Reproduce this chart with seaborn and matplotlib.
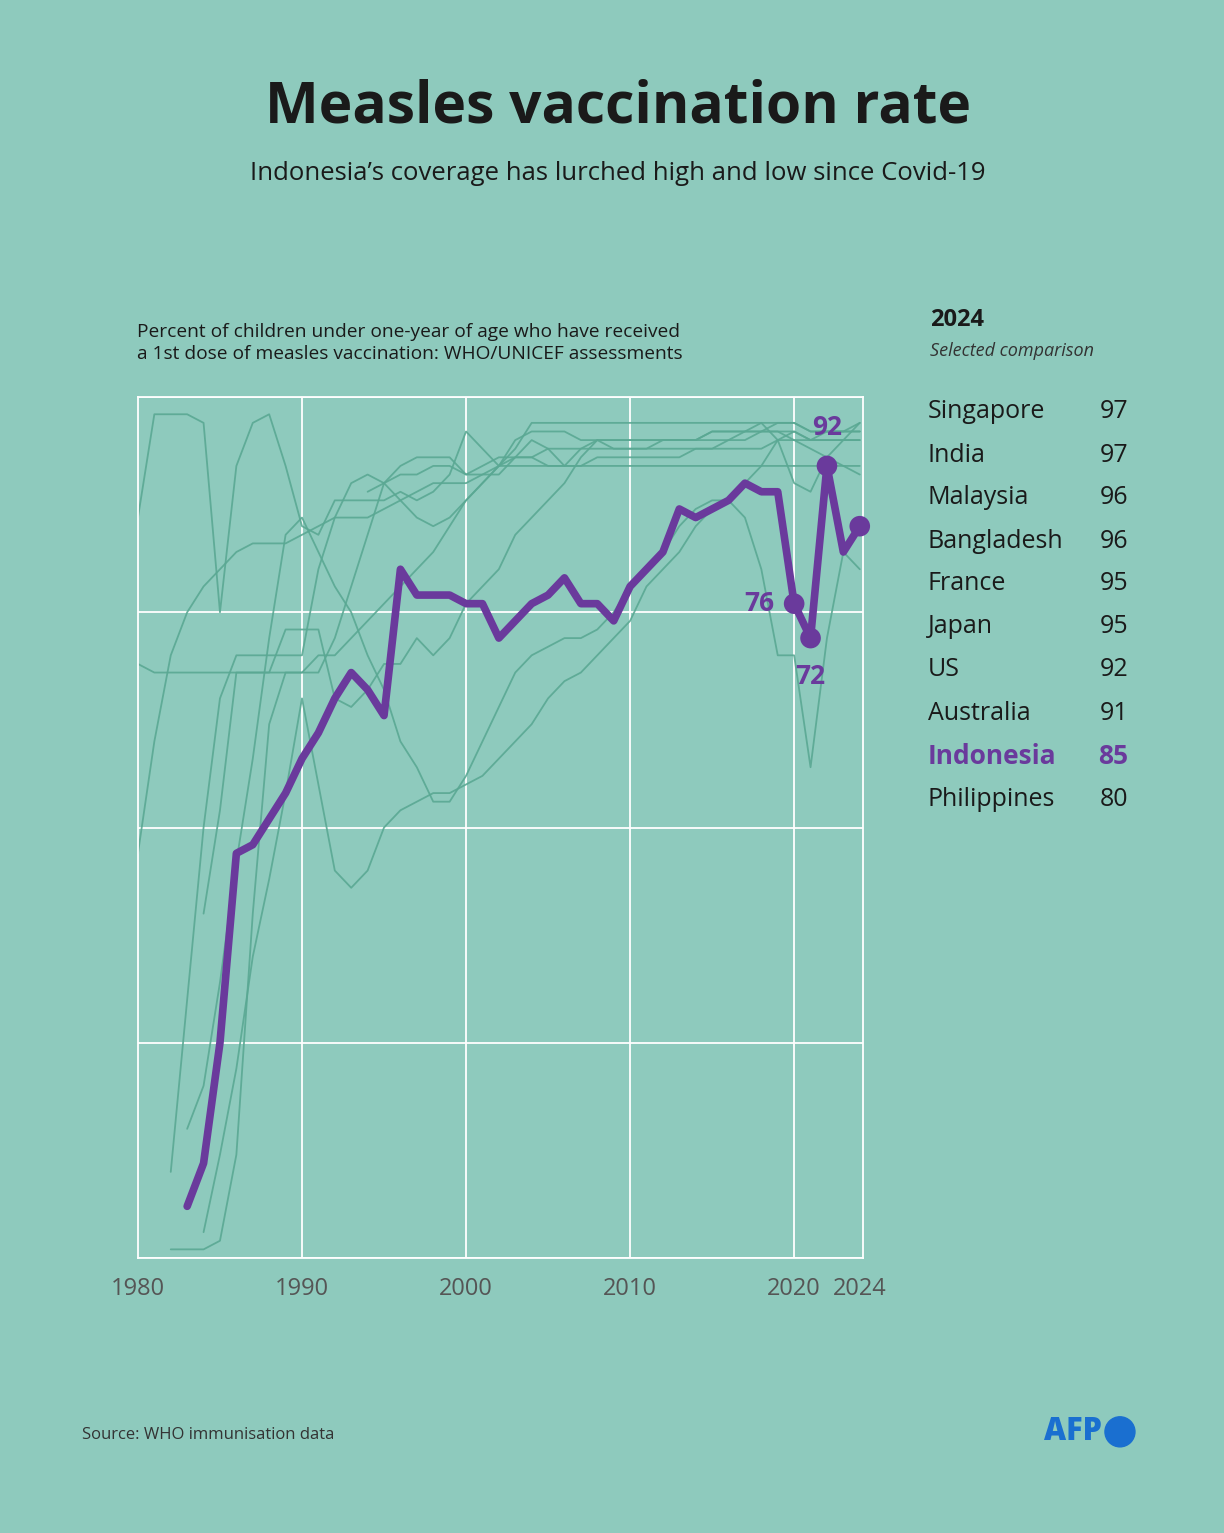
import numpy as np
import pandas as pd
import matplotlib
matplotlib.use("Agg")
import matplotlib.pyplot as plt
import seaborn as sns

years = list(range(1980, 2025))
nan = np.nan

indonesia = [nan, nan, nan, 6, 11, 25, 47, 48, 51, 54, 58, 61, 65, 68, 66, 63, 80, 77, 77, 77,
             76, 76, 72, 74, 76, 77, 79, 76, 76, 74, 78, 80, 82, 87, 86, 87, 88, 90, 89, 89,
             76, 72, 92, 82, 85]

# other countries (thin background lines), rough reads off the picture
others = {
    "Singapore": [86, 98, 98, 98, 97, 75, 92, 97, 98, 92, 85, 84, 88, 88, 88, 88, 89, 88, 89, 91,
                  96, 94, 92, 95, 96, 96, 96, 95, 95, 95, 95, 95, 95, 95, 95, 96, 96, 96, 96, 97,
                  97, 96, 96, 96, 97],
    "Japan": [69, 68, 68, 68, 68, 68, 68, 68, 68, 73, 73, 73, 65, 64, 66, 69, 69, 72, 70, 72,
              76, 78, 80, 84, 86, 88, 90, 93, 95, 94, 94, 94, 95, 95, 95, 96, 96, 96, 97, 95,
              96, 95, 95, 95, 95],
    "France": [47, 60, 70, 75, 78, 80, 82, 83, 83, 83, 84, 85, 86, 86, 86, 87, 88, 89, 90, 90,
               90, 91, 92, 92, 92, 92, 92, 92, 93, 93, 93, 93, 93, 93, 94, 94, 95, 95, 96, 96,
               95, 95, 95, 95, 95],
    "Malaysia": [nan, nan, 10, 30, 50, 65, 70, 70, 70, 70, 70, 80, 86, 90, 91, 90, 88, 86, 85, 86,
                 88, 90, 92, 93, 95, 94, 92, 94, 95, 95, 95, 95, 95, 95, 95, 95, 95, 96, 96, 96,
                 96, 95, 96, 96, 96],
    "Bangladesh": [nan, nan, 1, 1, 1, 2, 12, 40, 62, 68, 68, 70, 70, 72, 74, 76, 78, 80, 82, 85,
                   88, 90, 92, 94, 97, 97, 97, 97, 97, 97, 97, 97, 97, 97, 97, 97, 97, 97, 97, 97,
                   97, 96, 96, 96, 96],
    "India": [nan, nan, nan, nan, 3, 12, 22, 35, 44, 54, 65, 55, 45, 43, 45, 50, 52, 53, 54, 54,
              55, 56, 58, 60, 62, 65, 67, 68, 70, 72, 74, 78, 80, 82, 85, 87, 88, 90, 92, 95,
              90, 89, 93, 95, 97],
    "US": [nan, nan, nan, nan, nan, nan, nan, nan, nan, nan, nan, nan, nan, nan, 89, 90, 91, 91, 92, 92,
           91, 91, 91, 93, 93, 92, 92, 92, 92, 92, 92, 92, 92, 92, 92, 92, 92, 92, 92, 92,
           92, 92, 92, 92, 92],
    "Australia": [nan, nan, nan, nan, 40, 52, 68, 68, 68, 68, 68, 68, 72, 78, 84, 90, 92, 93, 93, 93,
                  91, 92, 93, 93, 93, 94, 94, 94, 94, 94, 94, 94, 94, 94, 94, 94, 94, 94, 94, 95,
                  95, 94, 93, 92, 91],
    "Philippines": [nan, nan, nan, 15, 20, 32, 46, 58, 72, 84, 86, 82, 78, 75, 70, 66, 60, 57, 53, 53,
                    56, 60, 64, 68, 70, 71, 72, 72, 73, 75, 78, 80, 82, 85, 87, 88, 88, 86, 80, 70,
                    70, 57, 72, 82, 80],
}

rank_names = ["Singapore", "India", "Malaysia", "Bangladesh", "France", "Japan", "US",
              "Australia", "Indonesia", "Philippines"]
rank_values = [97, 97, 96, 96, 95, 95, 92, 91, 85, 80]

bg = "#8ecabd"
purple = "#6a3a9c"
thin = "#5aa893"
dark = "#1a1a1a"

sns.set_theme(style="white")
plt.rcParams["font.family"] = ["Open Sans", "DejaVu Sans"]

fig = plt.figure(figsize=(12.24, 15.33), dpi=100, facecolor=bg)
ax = fig.add_axes([0.1127, 0.1794, 0.5924, 0.5616])
ax.set_facecolor(bg)

for name, vals in others.items():
    d = pd.DataFrame({"year": years, "v": vals})
    sns.lineplot(data=d, x="year", y="v", ax=ax, color=thin, lw=1.3, alpha=0.9)

ind = pd.DataFrame({"year": years, "v": indonesia})
sns.lineplot(data=ind, x="year", y="v", ax=ax, color=purple, lw=5.5, zorder=5)
pts = ind[ind.year.isin([2020, 2021, 2022, 2024])]
sns.scatterplot(data=pts, x="year", y="v", ax=ax, color=purple, s=220, edgecolor="none", zorder=6)
for c in ax.collections:
    c.set_clip_on(False)
for yr, dx, dy in [(2020, -1.2, 0), (2021, 0, -4.5), (2022, 0, 4.5)]:
    v = ind.loc[ind.year == yr, "v"].iloc[0]
    ax.text(yr + dx, v + dy, str(int(v)), color=purple, fontsize=19, fontweight="bold",
            ha="right" if dx < 0 else "center", va="center", zorder=7)

ax.set_xlim(1980, 2024.2)
ax.set_ylim(0, 100)
ax.set_xticks([1980, 1990, 2000, 2010, 2020, 2024])
ax.set_yticks([0, 25, 50, 75, 100])
ax.set_yticklabels([])
ax.grid(True, axis="y", color="white", lw=1.3)
for x in [1990, 2000, 2010, 2020]:
    ax.axvline(x, color="white", lw=1.3, zorder=0)
for s in ax.spines.values():
    s.set_color("white")
    s.set_linewidth(1.3)
ax.tick_params(axis="x", colors="#555555", labelsize=17, length=0, pad=14)
ax.tick_params(axis="y", length=0)
ax.set_xlabel("")
ax.set_ylabel("")

fig.text(0.505, 0.93, "Measles vaccination rate", ha="center", va="center",
         fontsize=41, fontweight="bold", color=dark)
fig.text(0.505, 0.887, "Indonesia\u2019s coverage has lurched high and low since Covid-19",
         ha="center", va="center", fontsize=18.5, color=dark)
fig.text(0.112, 0.776, "Percent of children under one-year of age who have received\n"
         "a 1st dose of measles vaccination: WHO/UNICEF assessments",
         ha="left", va="center", fontsize=13.8, color=dark, linespacing=1.3)

fig.text(0.76, 0.791, "2024", fontsize=17, fontweight="bold", color=dark, va="center")
fig.text(0.76, 0.771, "Selected comparison", fontsize=13, style="italic", color="#333333", va="center")
for i, (n, v) in enumerate(zip(rank_names, rank_values)):
    y = 1 - (412 + i * 43) / 1533
    hl = n == "Indonesia"
    kw = dict(fontsize=19 if hl else 18, fontweight="bold" if hl else "normal",
              color=purple if hl else dark, va="center")
    fig.text(0.758, y, n, ha="left", **kw)
    fig.text(0.922, y, str(v), ha="right", **kw)

fig.text(0.067, 0.064, "Source: WHO immunisation data", fontsize=12, color="#333333", va="center")
fig.text(0.9, 0.066, "AFP", fontsize=22, fontweight="heavy", color="#1a6fd0",
         ha="right", va="center")
fig.patches.append(matplotlib.patches.Ellipse((0.915, 0.066), 0.0245, 0.0196, transform=fig.transFigure,
                                              color="#1a6fd0"))

fig.savefig("out.png", dpi=100, facecolor=bg)
